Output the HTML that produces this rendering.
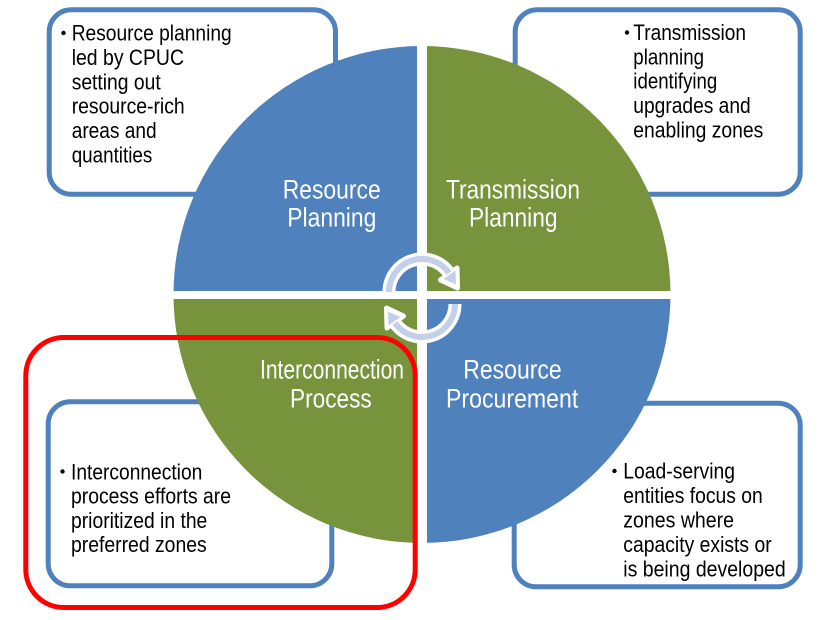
<!DOCTYPE html>
<html>
<head>
<meta charset="utf-8">
<style>
  html,body{margin:0;padding:0;background:#fff;}
  svg{display:block;}
  .b{font-family:"Liberation Sans",Arial,sans-serif;font-size:22px;fill:#000;}
  .h{font-family:"Liberation Sans",Arial,sans-serif;font-size:26.5px;fill:#fff;}
</style>
</head>
<body>
<svg width="826" height="620" viewBox="0 0 826 620" xmlns="http://www.w3.org/2000/svg">
  <rect width="826" height="620" fill="#fff"/>

  <!-- text boxes -->
  <g fill="#fff" stroke="#4f81bd" stroke-width="5">
    <rect x="49.2" y="9.8" width="286.3" height="184.4" rx="22"/>
    <rect x="515.2" y="9.8" width="285" height="184.4" rx="22"/>
    <rect x="48.2" y="401.8" width="283.6" height="184" rx="22"/>
    <rect x="514.2" y="403.2" width="286" height="183.6" rx="22"/>
  </g>

  <!-- circle quadrants -->
  <path d="M422,294.5 L173.5,294.5 A248.5,248.5 0 0 1 422,46 Z" fill="#4f81bd"/>
  <path d="M422,294.5 L422,46 A248.5,248.5 0 0 1 670.5,294.5 Z" fill="#77933c"/>
  <path d="M422,294.5 L670.5,294.5 A248.5,248.5 0 0 1 422,543 Z" fill="#4f81bd"/>
  <path d="M422,294.5 L422,543 A248.5,248.5 0 0 1 173.5,294.5 Z" fill="#77933c"/>
  <rect x="417" y="40" width="10" height="510" fill="#fff"/>
  <rect x="165" y="291" width="515" height="8" fill="#fff"/>

  <!-- circular arrows -->
  <g id="arr">
    <path d="M389,292 A33,33 0 0 1 449,273" fill="none" stroke="#fff" stroke-width="13"/>
    <polygon points="457.5,288 440.5,280 457,268" fill="#fff" stroke="#fff" stroke-width="5" stroke-linejoin="round"/>
    <path d="M389,292 A33,33 0 0 1 449,273" fill="none" stroke="#c3d0e8" stroke-width="6"/>
    <polygon points="456,284.5 443.5,279 455.5,270.5" fill="#c3d0e8"/>
  </g>
  <use href="#arr" transform="rotate(180 422 298)"/>

  <!-- red highlight -->
  <rect x="25.8" y="337.5" width="389.4" height="270" rx="38" fill="none" stroke="#ff0000" stroke-width="5"/>

  <!-- headers -->
  <text class="h" x="282.7" y="198.3" textLength="98" lengthAdjust="spacingAndGlyphs">Resource</text>
  <text class="h" x="287.3" y="226.7" textLength="89" lengthAdjust="spacingAndGlyphs">Planning</text>
  <text class="h" x="446" y="198.3" textLength="134" lengthAdjust="spacingAndGlyphs">Transmission</text>
  <text class="h" x="469" y="226.7" textLength="88.5" lengthAdjust="spacingAndGlyphs">Planning</text>
  <text class="h" x="260" y="378.3" textLength="144" lengthAdjust="spacingAndGlyphs">Interconnection</text>
  <text class="h" x="290" y="407.3" textLength="81.7" lengthAdjust="spacingAndGlyphs">Process</text>
  <text class="h" x="463.3" y="378.3" textLength="98.4" lengthAdjust="spacingAndGlyphs">Resource</text>
  <text class="h" x="446" y="407.3" textLength="132.3" lengthAdjust="spacingAndGlyphs">Procurement</text>

  <!-- bullets -->
  <g fill="#000">
    <circle cx="63.5" cy="33" r="2.2"/>
    <circle cx="627" cy="32.5" r="2.2"/>
    <circle cx="62.5" cy="471.5" r="2.2"/>
    <circle cx="614.5" cy="471" r="2.2"/>
  </g>

  <!-- top-left text -->
  <text class="b" x="71.7" y="40.7" textLength="160" lengthAdjust="spacingAndGlyphs">Resource planning</text>
  <text class="b" x="71.7" y="65" textLength="112.3" lengthAdjust="spacingAndGlyphs">led by CPUC</text>
  <text class="b" x="71.7" y="89.3" textLength="89" lengthAdjust="spacingAndGlyphs">setting out</text>
  <text class="b" x="71.7" y="113.6" textLength="113" lengthAdjust="spacingAndGlyphs">resource-rich</text>
  <text class="b" x="71.7" y="138" textLength="85" lengthAdjust="spacingAndGlyphs">areas and</text>
  <text class="b" x="71.7" y="162.3" textLength="80.6" lengthAdjust="spacingAndGlyphs">quantities</text>

  <!-- top-right text -->
  <text class="b" x="633.3" y="40" textLength="112.7" lengthAdjust="spacingAndGlyphs">Transmission</text>
  <text class="b" x="633.3" y="64.3" textLength="70.7" lengthAdjust="spacingAndGlyphs">planning</text>
  <text class="b" x="633.3" y="88.7" textLength="84" lengthAdjust="spacingAndGlyphs">identifying</text>
  <text class="b" x="633.3" y="113" textLength="117.4" lengthAdjust="spacingAndGlyphs">upgrades and</text>
  <text class="b" x="633.3" y="137.3" textLength="130" lengthAdjust="spacingAndGlyphs">enabling zones</text>

  <!-- bottom-left text -->
  <text class="b" x="71" y="479.3" textLength="131.3" lengthAdjust="spacingAndGlyphs">Interconnection</text>
  <text class="b" x="71" y="503.6" textLength="160" lengthAdjust="spacingAndGlyphs">process efforts are</text>
  <text class="b" x="71" y="527.9" textLength="136.3" lengthAdjust="spacingAndGlyphs">prioritized in the</text>
  <text class="b" x="71" y="552" textLength="135.7" lengthAdjust="spacingAndGlyphs">preferred zones</text>

  <!-- bottom-right text -->
  <text class="b" x="623.3" y="478.5" textLength="111.7" lengthAdjust="spacingAndGlyphs">Load-serving</text>
  <text class="b" x="623.3" y="503" textLength="139.4" lengthAdjust="spacingAndGlyphs">entities focus on</text>
  <text class="b" x="623.3" y="527.5" textLength="110.7" lengthAdjust="spacingAndGlyphs">zones where</text>
  <text class="b" x="623.3" y="552" textLength="148.4" lengthAdjust="spacingAndGlyphs">capacity exists or</text>
  <text class="b" x="623.3" y="576.5" textLength="162.4" lengthAdjust="spacingAndGlyphs">is being developed</text>
</svg>
</body>
</html>
